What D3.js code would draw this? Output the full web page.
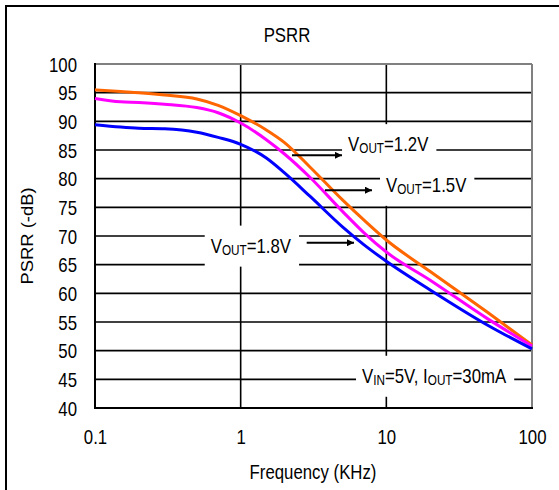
<!DOCTYPE html>
<html>
<head>
<meta charset="utf-8">
<script src="https://cdn.jsdelivr.net/npm/d3@7"></script>
<style>
  html, body { margin: 0; padding: 0; background: #fff; }
  svg { display: block; font-family: "Liberation Sans", Arial, sans-serif; }
</style>
</head>
<body>
<svg id="chart" width="559" height="490"></svg>
<script>
// ---- data ----
const freqs   = [0.1, 0.15, 0.2, 0.3, 0.5, 0.7, 1, 1.5, 2, 3, 5, 7, 10, 20, 50, 100];
const vout12  = [95.5, 95.2, 95.0, 94.6, 93.9, 92.8, 91.0, 88.5, 86.3, 82.0, 76.3, 72.8, 69.3, 63.8, 56.6, 51.0];
const vout15  = [94.0, 93.4, 93.3, 93.0, 92.4, 91.5, 89.7, 86.8, 84.3, 80.2, 74.3, 70.6, 67.2, 62.3, 55.5, 50.8];
const vout18  = [89.4, 89.0, 88.8, 88.7, 88.1, 87.2, 86.0, 83.6, 81.0, 76.9, 71.6, 68.5, 65.6, 60.6, 54.4, 50.3];
const seriesNames = ["VOUT=1.2V", "VOUT=1.5V", "VOUT=1.8V"];
const xTicks = [0.1, 1, 10, 100];
const xTickLabels = ["0.1", "1", "10", "100"];
const yTicks = [40, 45, 50, 55, 60, 65, 70, 75, 80, 85, 90, 95, 100];
const title = "PSRR";
const xTitle = "Frequency (KHz)";
const yTitle = "PSRR (-dB)";
// annotations: text parts [main, sub, main, sub, main], anchor (freq, dB)
const annotations = [
  { parts: [["V",0],["OUT",1],["=1.2V",0]], f: 5.46, v: 84.8 },
  { parts: [["V",0],["OUT",1],["=1.5V",0]], f: 9.95, v: 77.7 },
  { parts: [["V",0],["OUT",1],["=1.8V",0]], f: 0.623, v: 67.1 },
  { parts: [["V",0],["IN",1],["=5V, I",0],["OUT",1],["=30mA",0]], f: 6.81, v: 44.4 }
];
// arrows: from freq f0 to f1 at level v
const arrows = [
  { f0: 2.25, f1: 4.96, v: 84.07 },
  { f0: 3.79, f1: 7.97, v: 78.0 },
  { f0: 2.84, f1: 6.0,  v: 68.83 }
];

// ---- drawing ----
const svg = d3.select("#chart");
const SX = 0.84; // horizontal squeeze of all text
const FS = 20;

const x = d3.scaleLog().domain([0.1, 100]).range([95, 532]);
const y = d3.scaleLinear().domain([40, 100]).range([408, 64]);

// outer frame (cropped at right/bottom)
svg.append("rect").attr("x", 0).attr("y", 0).attr("width", 559).attr("height", 490).attr("fill", "#fff");
svg.append("rect").attr("x", 6).attr("y", 6).attr("width", 700).attr("height", 700)
  .attr("fill", "none").attr("stroke", "#000").attr("stroke-width", 2);

// gridlines
const grid = svg.append("g");
grid.selectAll("line.h").data(yTicks.filter(d => d > 40 && d < 100)).join("line")
  .attr("x1", x(0.1)).attr("x2", x(100))
  .attr("y1", d => y(d)).attr("y2", d => y(d))
  .attr("stroke", "#000").attr("stroke-width", 1.6);
grid.selectAll("line.v").data(xTicks.filter(d => d > 0.1 && d < 100)).join("line")
  .attr("x1", d => x(d)).attr("x2", d => x(d))
  .attr("y1", y(100)).attr("y2", y(40))
  .attr("stroke", "#000").attr("stroke-width", 1.6);

// plot frame
svg.append("line").attr("x1", x(0.1)).attr("x2", x(100)).attr("y1", y(100)).attr("y2", y(100))
  .attr("stroke", "#808080").attr("stroke-width", 2);
svg.append("line").attr("x1", x(100)).attr("x2", x(100)).attr("y1", y(100)).attr("y2", y(40))
  .attr("stroke", "#808080").attr("stroke-width", 2);
svg.append("line").attr("x1", x(0.1)).attr("x2", x(0.1)).attr("y1", y(100) - 1).attr("y2", y(40) + 1)
  .attr("stroke", "#000").attr("stroke-width", 2);
svg.append("line").attr("x1", x(0.1) - 1).attr("x2", x(100) + 1).attr("y1", y(40)).attr("y2", y(40))
  .attr("stroke", "#000").attr("stroke-width", 2);

// annotation boxes and texts
function addRichText(g, parts, fs) {
  const t = g.append("text").attr("font-size", fs).attr("fill", "#000");
  let shifted = false;
  parts.forEach(([s, sub]) => {
    const ts = t.append("tspan").text(s);
    if (sub && !shifted) { ts.attr("font-size", fs * 0.7).attr("dy", 2); shifted = true; }
    else if (!sub && shifted) { ts.attr("dy", -2); shifted = false; }
    else if (sub) { ts.attr("font-size", fs * 0.7); }
  });
  return t;
}
const annG = svg.append("g");
annotations.forEach(a => {
  const g = annG.append("g");
  const rect = g.append("rect").attr("fill", "#fff");
  const tg = g.append("g").attr("transform", `translate(${x(a.f)},${y(a.v)}) scale(${SX},1)`);
  const t = addRichText(tg, a.parts, FS);
  const w = t.node().getComputedTextLength() * SX;
  rect.attr("x", x(a.f) - 6).attr("y", y(a.v) - 27).attr("width", w + 14).attr("height", 41);
});

// curves
const allSeries = [vout12, vout15, vout18];
const colors = ["#FF6600", "#FF00FF", "#0000FF"];
const line = d3.line().x(d => x(d[0])).y(d => y(d[1])).curve(d3.curveMonotoneX);
svg.append("g").selectAll("path").data(allSeries).join("path")
  .attr("d", s => line(freqs.map((f, i) => [f, s[i]])))
  .attr("fill", "none")
  .attr("stroke", (d, i) => colors[i])
  .attr("stroke-width", 3)
  .attr("stroke-linejoin", "round");

// arrows
svg.append("defs").append("marker")
  .attr("id", "ah").attr("viewBox", "0 0 10 10").attr("refX", 10).attr("refY", 5)
  .attr("markerWidth", 9).attr("markerHeight", 7).attr("markerUnits", "userSpaceOnUse")
  .attr("orient", "auto")
  .append("path").attr("d", "M0,0 L10,5 L0,10 z").attr("fill", "#000");
svg.append("g").selectAll("line").data(arrows).join("line")
  .attr("x1", d => x(d.f0)).attr("x2", d => x(d.f1))
  .attr("y1", d => y(d.v)).attr("y2", d => y(d.v))
  .attr("stroke", "#000").attr("stroke-width", 2)
  .attr("marker-end", "url(#ah)");

// axes (labels only)
const yAxis = svg.append("g").attr("transform", `translate(${x(0.1)},0)`)
  .call(d3.axisLeft(y).tickValues(yTicks).tickSize(0).tickPadding(0));
yAxis.select(".domain").remove();
yAxis.selectAll("text").attr("font-size", FS).attr("font-family", "Liberation Sans, Arial, sans-serif")
  .attr("fill", "#000").attr("x", -18 / SX).attr("dy", "0.36em")
  .attr("transform", `scale(${SX},1)`);

const xAxis = svg.append("g").attr("transform", `translate(0,${y(40)})`)
  .call(d3.axisBottom(x).tickValues(xTicks).tickFormat((d, i) => xTickLabels[i]).tickSize(0).tickPadding(0));
xAxis.select(".domain").remove();
xAxis.selectAll("text").attr("font-size", FS).attr("font-family", "Liberation Sans, Arial, sans-serif")
  .attr("fill", "#000").attr("y", 36).attr("dy", 0)
  .attr("transform", `scale(${SX},1)`);
xAxis.selectAll(".tick").each(function(d) {
  d3.select(this).select("text").attr("x", 0);
});

// titles
svg.append("text").attr("transform", `translate(287,42) scale(${SX},1)`)
  .attr("text-anchor", "middle").attr("font-size", FS).text(title);
svg.append("text").attr("transform", `translate(313,479) scale(${SX},1)`)
  .attr("text-anchor", "middle").attr("font-size", FS).text(xTitle);
svg.append("text").attr("transform", `translate(33,${(y(40) + y(100)) / 2}) rotate(-90) scale(0.92,${SX})`)
  .attr("text-anchor", "middle").attr("font-size", FS).text(yTitle);
</script>
</body>
</html>
